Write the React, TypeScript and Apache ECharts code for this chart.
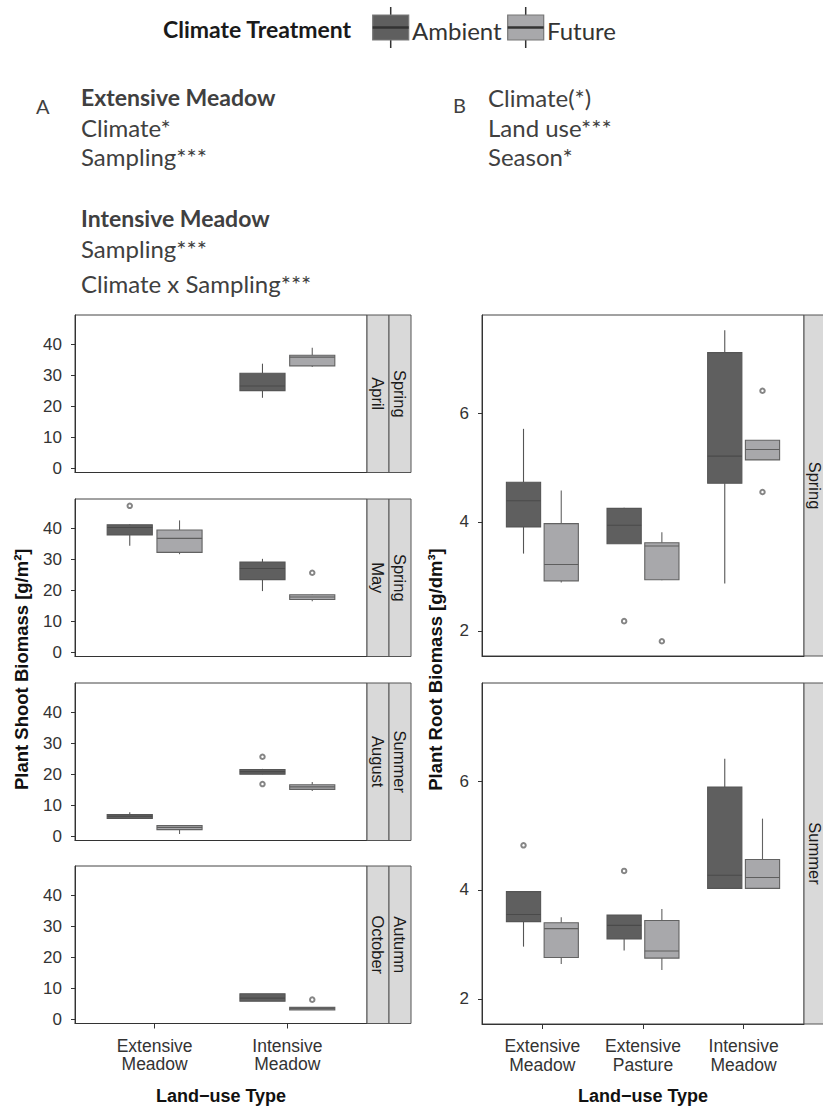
import React, { useEffect, useRef } from "react";
import * as echarts from "echarts";

const shootCategories = ["Extensive\nMeadow", "Intensive\nMeadow"];
const rootCategories = ["Extensive\nMeadow", "Extensive\nPasture", "Intensive\nMeadow"];
const shootMonths = ["April", "May", "August", "October"];
const shootSeasons = ["Spring", "Spring", "Summer", "Autumn"];
const rootSeasons = ["Spring", "Summer"];
const shootTicks = [0, 10, 20, 30, 40];
const rootTicks = [2, 4, 6];

// [whiskerLow, Q1, median, Q3, whiskerHigh] per land-use category; null = not sampled
const shootAmbient = [
  [null, [22.8, 25.1, 26.6, 30.7, 33.8]],
  [[34.4, 37.9, 40.3, 41.2, 41.4], [19.8, 23.5, 27.1, 29.2, 30.2]],
  [[5.6, 5.8, 6.5, 7.1, 7.8], [20.0, 20.1, 20.9, 21.6, 21.8]],
  [null, [5.9, 5.9, 6.9, 8.3, 8.3]],
];
const shootFuture = [
  [null, [32.7, 33.1, 35.9, 36.5, 38.9]],
  [[31.7, 32.3, 36.8, 39.5, 42.6], [16.5, 17.1, 17.9, 18.6, 18.8]],
  [[0.8, 2.2, 2.9, 3.5, 3.6], [14.7, 15.2, 16.0, 16.7, 17.6]],
  [null, [3.1, 3.1, 3.5, 3.9, 3.9]],
];
// outliers: [categoryIndex, value]
const shootAmbientOutliers = [[], [[0, 47.3]], [[1, 25.7], [1, 16.9]], []];
const shootFutureOutliers = [[], [[1, 25.7]], [], [[1, 6.4]]];

const rootAmbient = [
  [[3.42, 3.91, 4.39, 4.73, 5.71], [3.6, 3.6, 3.94, 4.25, 4.26], [2.87, 4.71, 5.21, 7.11, 7.52]],
  [[2.96, 3.42, 3.55, 3.97, 3.97], [2.89, 3.1, 3.35, 3.54, 3.54], [4.02, 4.03, 4.27, 5.89, 6.41]],
];
const rootFuture = [
  [[2.89, 2.92, 3.22, 3.97, 4.58], [2.93, 2.94, 3.56, 3.62, 3.81], [5.14, 5.14, 5.33, 5.5, 5.5]],
  [[2.64, 2.76, 3.29, 3.4, 3.5], [2.53, 2.75, 2.88, 3.44, 3.65], [4.02, 4.03, 4.23, 4.56, 5.31]],
];
const rootAmbientOutliers = [[[1, 2.18]], [[0, 4.82], [1, 4.35]]];
const rootFutureOutliers = [[[1, 1.81], [2, 6.41], [2, 4.55]], []];

const legendLabels = ["Ambient", "Future"];
const panelANotes = [
  { t: "Extensive Meadow", b: true },
  { t: "Climate*", b: false },
  { t: "Sampling***", b: false },
  { t: "Intensive Meadow", b: true },
  { t: "Sampling***", b: false },
  { t: "Climate x Sampling***", b: false },
];
const panelBNotes = ["Climate(*)", "Land use***", "Season*"];

const AMB_FILL = "#5f5f5f";
const AMB_STROKE = "#555555";
const AMB_MED = "#4a4a4a";
const FUT_FILL = "#a8a8ab";
const FUT_STROKE = "#626262";
const FUT_MED = "#5e5e5e";
const DODGE = 0.1875;
const HALF = 0.17;
const AXIS_FONT = "Liberation Sans";
const NOTE_FONT = "Lato";

const LEFT_X = 75;
const LEFT_W = 292;
const LEFT_H = 157.5;
const LEFT_TOPS = [315, 499, 683, 866];
const RIGHT_X = 482;
const RIGHT_W = 322;
const RIGHT_H = 341;
const RIGHT_TOPS = [315, 683];

function boxSeries(data: any[], xi: number, offset: number, fill: string, stroke: string, med: string) {
  return {
    type: "custom",
    xAxisIndex: xi,
    yAxisIndex: xi,
    dimensions: ["x", "low", "q1", "med", "q3", "high"],
    encode: { x: "x", y: ["low", "high"] },
    data: data.map((b, i) => (b ? [i + 1, ...b] : null)).filter((d) => d !== null),
    renderItem: (params: any, api: any) => {
      const x = api.value(0) + offset;
      const xl = api.coord([x - HALF, api.value(2)])[0];
      const xr = api.coord([x + HALF, api.value(2)])[0];
      const xc = api.coord([x, api.value(2)])[0];
      const yLow = api.coord([x, api.value(1)])[1];
      const yQ1 = api.coord([x, api.value(2)])[1];
      const yMed = api.coord([x, api.value(3)])[1];
      const yQ3 = api.coord([x, api.value(4)])[1];
      const yHigh = api.coord([x, api.value(5)])[1];
      return {
        type: "group",
        children: [
          { type: "line", shape: { x1: xc, y1: yQ3, x2: xc, y2: yHigh }, style: { stroke, lineWidth: 1.1 } },
          { type: "line", shape: { x1: xc, y1: yLow, x2: xc, y2: yQ1 }, style: { stroke, lineWidth: 1.1 } },
          {
            type: "rect",
            shape: { x: xl, y: yQ3, width: xr - xl, height: Math.max(yQ1 - yQ3, 1) },
            style: { fill, stroke, lineWidth: 1.1 },
          },
          { type: "line", shape: { x1: xl, y1: yMed, x2: xr, y2: yMed }, style: { stroke: med, lineWidth: 1.1 } },
        ],
      };
    },
    z: 3,
  };
}

function outlierSeries(pts: number[][], xi: number, offset: number) {
  return {
    type: "scatter",
    xAxisIndex: xi,
    yAxisIndex: xi,
    symbol: "emptyCircle",
    symbolSize: 4.5,
    itemStyle: { color: "#666", borderColor: "#666", borderWidth: 1 },
    data: pts.map((p) => [p[0] + 1 + offset, p[1]]),
    z: 4,
  };
}

function stripText(text: string, cx: number, cy: number) {
  return {
    type: "text",
    x: cx,
    y: cy,
    rotation: -Math.PI / 2,
    style: { text, fontSize: 16.5, fontFamily: AXIS_FONT, fill: "#1a1a1a", align: "center", verticalAlign: "middle" },
    z: 10,
  };
}

function stripRect(x: number, y: number, w: number, h: number) {
  return {
    type: "rect",
    shape: { x, y, width: w, height: h },
    style: { fill: "#d9d9d9", stroke: "#555", lineWidth: 1 },
    z: 9,
  };
}

function legendKey(x: number, fill: string, stroke: string) {
  const w = 36;
  const cx = x + w / 2;
  return [
    { type: "line", shape: { x1: cx, y1: 7, x2: cx, y2: 48 }, style: { stroke: "#333", lineWidth: 1.5 }, z: 10 },
    { type: "rect", shape: { x, y: 15, width: w, height: 25 }, style: { fill, stroke, lineWidth: 1.2 }, z: 11 },
    { type: "line", shape: { x1: x, y1: 27.5, x2: x + w, y2: 27.5 }, style: { stroke: "#333", lineWidth: 2.5 }, z: 12 },
  ];
}

export default function App() {
  const ref = useRef<HTMLDivElement>(null);
  useEffect(() => {
    if (!ref.current) return;
    const chart = echarts.init(ref.current, undefined, { renderer: "svg" });

    const grids: any[] = [];
    const xAxes: any[] = [];
    const yAxes: any[] = [];
    const series: any[] = [];
    const graphics: any[] = [];

    const axisCommon = {
      splitLine: { show: false },
    };

    LEFT_TOPS.forEach((top, i) => {
      const isBottom = i === LEFT_TOPS.length - 1;
      grids.push({
        left: LEFT_X, top, width: LEFT_W, height: LEFT_H,
        show: true, borderColor: "#444", borderWidth: 1, backgroundColor: "#fff",
      });
      xAxes.push({
        ...axisCommon,
        gridIndex: i, type: "value", min: 0.4, max: 2.6,
        axisLine: { show: true, onZero: false, lineStyle: { color: "#333", width: 1 } },
        axisTick: { show: isBottom, customValues: [1, 2], length: 5, lineStyle: { color: "#333" } },
        axisLabel: {
          show: isBottom, customValues: [1, 2],
          formatter: (v: number) => shootCategories[Math.round(v) - 1] || "",
          fontSize: 17.5, lineHeight: 18.5, color: "#333", fontFamily: AXIS_FONT, margin: 13,
        },
      });
      yAxes.push({
        ...axisCommon,
        gridIndex: i, type: "value", min: -1.3, max: 49.5,
        axisLine: { show: true, onZero: false, lineStyle: { color: "#333", width: 1 } },
        axisTick: { show: true, customValues: shootTicks, length: 4, lineStyle: { color: "#333" } },
        axisLabel: { customValues: shootTicks, fontSize: 17, color: "#333", fontFamily: AXIS_FONT, margin: 13 },
      });
      series.push(boxSeries(shootAmbient[i], i, -DODGE, AMB_FILL, AMB_STROKE, AMB_MED));
      series.push(boxSeries(shootFuture[i], i, DODGE, FUT_FILL, FUT_STROKE, FUT_MED));
      series.push(outlierSeries(shootAmbientOutliers[i], i, -DODGE));
      series.push(outlierSeries(shootFutureOutliers[i], i, DODGE));

      graphics.push(stripRect(LEFT_X + LEFT_W, top, 22, LEFT_H));
      graphics.push(stripRect(LEFT_X + LEFT_W + 22, top, 22, LEFT_H));
      graphics.push(stripText(shootMonths[i], LEFT_X + LEFT_W + 11, top + LEFT_H / 2));
      graphics.push(stripText(shootSeasons[i], LEFT_X + LEFT_W + 33, top + LEFT_H / 2));
    });

    RIGHT_TOPS.forEach((top, j) => {
      const gi = LEFT_TOPS.length + j;
      const isBottom = j === RIGHT_TOPS.length - 1;
      grids.push({
        left: RIGHT_X, top, width: RIGHT_W, height: RIGHT_H,
        show: true, borderColor: "#444", borderWidth: 1, backgroundColor: "#fff",
      });
      xAxes.push({
        ...axisCommon,
        gridIndex: gi, type: "value", min: 0.4, max: 3.6,
        axisLine: { show: true, onZero: false, lineStyle: { color: "#333", width: 1 } },
        axisTick: { show: isBottom, customValues: [1, 2, 3], length: 5, lineStyle: { color: "#333" } },
        axisLabel: {
          show: isBottom, customValues: [1, 2, 3],
          formatter: (v: number) => rootCategories[Math.round(v) - 1] || "",
          fontSize: 17.5, lineHeight: 18.5, color: "#333", fontFamily: AXIS_FONT, margin: 13,
        },
      });
      yAxes.push({
        ...axisCommon,
        gridIndex: gi, type: "value", min: 1.54, max: 7.8,
        axisLine: { show: true, onZero: false, lineStyle: { color: "#333", width: 1 } },
        axisTick: { show: true, customValues: rootTicks, length: 4, lineStyle: { color: "#333" } },
        axisLabel: { customValues: rootTicks, fontSize: 17, color: "#333", fontFamily: AXIS_FONT, margin: 13 },
      });
      series.push(boxSeries(rootAmbient[j], gi, -DODGE, AMB_FILL, AMB_STROKE, AMB_MED));
      series.push(boxSeries(rootFuture[j], gi, DODGE, FUT_FILL, FUT_STROKE, FUT_MED));
      series.push(outlierSeries(rootAmbientOutliers[j], gi, -DODGE));
      series.push(outlierSeries(rootFutureOutliers[j], gi, DODGE));

      graphics.push(stripRect(RIGHT_X + RIGHT_W, top, 24, RIGHT_H));
      graphics.push(stripText(rootSeasons[j], RIGHT_X + RIGHT_W + 11, top + RIGHT_H / 2));
    });

    // axis titles
    const leftMidY = (LEFT_TOPS[0] + LEFT_TOPS[3] + LEFT_H) / 2;
    const rightMidY = (RIGHT_TOPS[0] + RIGHT_TOPS[1] + RIGHT_H) / 2;
    graphics.push({
      type: "text", x: 21, y: leftMidY, rotation: Math.PI / 2,
      style: { text: "Plant Shoot Biomass [g/m²]", fontSize: 18.5, fontWeight: "bold", fontFamily: AXIS_FONT, fill: "#111", align: "center", verticalAlign: "middle" },
    });
    graphics.push({
      type: "text", x: 435, y: rightMidY, rotation: Math.PI / 2,
      style: { text: "Plant Root Biomass [g/dm³]", fontSize: 18.5, fontWeight: "bold", fontFamily: AXIS_FONT, fill: "#111", align: "center", verticalAlign: "middle" },
    });
    graphics.push({
      type: "text", x: LEFT_X + LEFT_W / 2, y: 1096,
      style: { text: "Land\u2212use Type", fontSize: 18, fontWeight: "bold", fontFamily: AXIS_FONT, fill: "#111", align: "center", verticalAlign: "middle" },
    });
    graphics.push({
      type: "text", x: RIGHT_X + RIGHT_W / 2, y: 1096,
      style: { text: "Land\u2212use Type", fontSize: 18, fontWeight: "bold", fontFamily: AXIS_FONT, fill: "#111", align: "center", verticalAlign: "middle" },
    });

    // legend
    graphics.push({
      type: "text", x: 163, y: 29,
      style: { text: "Climate Treatment", fontSize: 23, fontWeight: "bold", fontFamily: NOTE_FONT, fill: "#1a1a1a", align: "left", verticalAlign: "middle" },
    });
    graphics.push(...legendKey(372.7, AMB_FILL, "#7a7a7a"));
    graphics.push(...legendKey(507.7, FUT_FILL, "#777"));
    graphics.push({
      type: "text", x: 412, y: 30,
      style: { text: legendLabels[0], fontSize: 24, fontFamily: NOTE_FONT, fill: "#333", align: "left", verticalAlign: "middle" },
    });
    graphics.push({
      type: "text", x: 547, y: 30,
      style: { text: legendLabels[1], fontSize: 24, fontFamily: NOTE_FONT, fill: "#333", align: "left", verticalAlign: "middle" },
    });

    // panel notes
    graphics.push({
      type: "text", x: 36, y: 106,
      style: { text: "A", fontSize: 20, fontFamily: NOTE_FONT, fill: "#404040", align: "left", verticalAlign: "middle" },
    });
    graphics.push({
      type: "text", x: 453, y: 105,
      style: { text: "B", fontSize: 20, fontFamily: NOTE_FONT, fill: "#404040", align: "left", verticalAlign: "middle" },
    });
    const aYs = [97, 127, 156, 218, 248, 283];
    panelANotes.forEach((n, k) => {
      graphics.push({
        type: "text", x: 81, y: aYs[k],
        style: { text: n.t, fontSize: n.b ? 23 : 24, fontWeight: n.b ? "bold" : "normal", fontFamily: NOTE_FONT, fill: "#404040", align: "left", verticalAlign: "middle" },
      });
    });
    const bYs = [97, 127, 156];
    panelBNotes.forEach((t, k) => {
      graphics.push({
        type: "text", x: 488, y: bYs[k],
        style: { text: t, fontSize: 24, fontFamily: NOTE_FONT, fill: "#404040", align: "left", verticalAlign: "middle" },
      });
    });

    chart.setOption({
      animation: false,
      backgroundColor: "#fff",
      grid: grids,
      xAxis: xAxes,
      yAxis: yAxes,
      series,
      graphic: graphics,
    });
    return () => chart.dispose();
  }, []);
  return <div ref={ref} style={{ position: "absolute", left: 0, top: 0, width: 823, height: 1107 }} />;
}
